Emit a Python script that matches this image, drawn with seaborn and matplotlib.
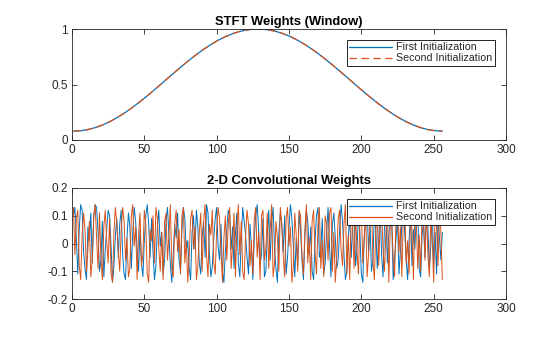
import numpy as np
import pandas as pd
import matplotlib
matplotlib.use("Agg")
import matplotlib.pyplot as plt
import seaborn as sns

# ---- data ----
win_x = [1, 6, 11, 16, 21, 26, 31, 36, 41, 46, 51, 56, 61, 66, 71, 76, 81, 86, 91, 96,
         101, 106, 111, 116, 121, 126, 131, 136, 141, 146, 151, 156, 161, 166, 171, 176,
         181, 186, 191, 196, 201, 206, 211, 216, 221, 226, 231, 236, 241, 246, 251, 256]
win_half = [0.080, 0.0835, 0.0939, 0.1111, 0.1347, 0.1645, 0.2001, 0.2408, 0.2859, 0.3350,
            0.3871, 0.4416, 0.4976, 0.5542, 0.6106, 0.6659, 0.7193, 0.7700, 0.8172, 0.8602,
            0.8984, 0.9311, 0.9579, 0.9783, 0.9922, 0.9991]
win_first = win_half + win_half[::-1]
win_second = win_half + win_half[::-1]

conv_first = [
    .10, .13, .02, -.11, .05, .14, .12, -.03, -.09, -.13, .06, .01, .11, -.07, .09, .14,
    .13, .04, -.10, -.06, .08, -.12, -.02, .05, .12, .10, -.01, -.14, -.08, .03, .09, -.05,
    .07, .12, -.04, -.11, -.13, .02, .11, .06, -.09, .04, .13, .08, -.02, -.10, .05, -.07,
    -.12, .01, .10, .14, .07, -.05, .09, -.03, -.13, -.08, .06, .12, -.01, .04, -.11, -.06,
    .08, .13, .03, -.08, -.14, -.04, .07, .02, .11, -.06, -.10, .05, .13, .09, -.03, .01,
    -.09, -.13, .04, .10, -.02, .12, .06, -.07, -.11, .03, .08, -.05, .14, .11, -.04, -.12,
    -.08, .02, .09, .13, -.01, -.06, .07, -.10, -.14, -.03, .05, .12, .10, -.02, .06, -.09,
    .04, .11, -.07, -.12, .01, .13, .08, .03, -.05, -.11, .07, -.01, -.13, .02, .10, .14,
    .05, -.08, -.04, .09, -.12, -.10, .03, .12, -.06, .08, .13, -.02, -.09, -.14, .04, .11,
    .07, -.03, .10, -.11, -.05, .06, .14, .09, -.01, -.12, .02, -.08, .11, .05, -.06, -.13,
    .03, .12, .08, -.04, .06, -.10, -.13, .01, .10, .13, -.05, -.02, .09, -.11, -.07, .04,
    .13, -.01, -.12, .07, .11, .02, -.09, -.06, .05, .14, .08, -.04, -.13, -.10, .03, .09,
    -.05, .06, .12, -.08, -.02, .10, .04, -.11, -.14, .02, .09, .13, -.03, .07, -.10, -.06,
    .11, .05, -.09, .01, .13, -.04, -.12, .06, .10, -.07, .03, .12, .08, -.13, -.05, .02,
    .09, -.11, -.03, .07, .14, .04, -.06, -.13, .01, .11, -.08, .05, -.02, .10, .12, -.09,
    -.12, .03, .08, -.05, .11, .06, -.10, -.01, .13, -.07, .04, -.11, .09, .02, -.06, .04,
]
conv_second = [
    .13, -.04, .09, .12, -.08, -.13, .03, .11, .05, -.10, -.02, .08, -.12, -.06, .10, .14,
    .02, -.09, .11, -.05, -.13, .06, .12, .01, -.07, .09, -.11, -.14, .04, .13, .07, -.03,
    -.10, .05, .13, .08, -.06, .02, -.12, -.09, .10, .14, -.01, .06, -.13, .03, .11, -.08,
    -.04, .12, .07, -.11, -.14, .05, .01, .10, -.07, .13, .09, -.02, -.10, .04, -.13, .08,
    .11, -.06, .03, .14, -.09, -.12, .07, .12, -.03, .05, -.11, .10, .13, -.07, .01, -.14,
    -.05, .09, .12, -.02, .06, -.13, -.08, .04, .11, -.10, .08, .14, -.04, -.12, .07, .03,
    .12, -.07, -.11, .05, .13, .09, -.03, -.14, .02, .10, -.06, .07, .13, -.09, -.01, .11,
    -.12, .06, .14, -.04, .08, -.10, -.13, .03, .12, .07, -.08, .01, -.11, .09, .13, -.05,
    .04, -.13, .10, .12, -.06, -.02, .11, -.09, .05, .14, -.12, -.07, .08, .02, -.10, .13,
    .07, -.04, -.12, .09, .13, -.01, .06, -.14, -.08, .11, .03, -.10, .12, .10, -.05, -.11,
    .05, .14, -.07, .02, -.13, .08, .12, -.03, -.11, .06, .13, -.09, .01, -.12, .10, .07,
    -.06, .11, .13, -.10, .04, -.14, -.05, .09, .12, -.02, -.08, .07, .14, -.11, .03, -.13,
    .10, .06, -.09, .12, -.03, -.11, .08, .13, -.07, .02, .11, -.12, -.04, .09, .14, -.06,
    -.13, .05, .10, -.08, .07, .13, -.02, -.10, .04, .12, -.14, .06, .09, -.05, -.12, .11,
    .13, -.03, .06, -.12, .09, .14, -.07, .01, -.11, .10, .05, -.13, .12, .08, -.09, .03,
    -.10, .12, .07, -.06, .13, -.04, -.12, .09, .02, -.14, .11, .06, -.08, .13, .04, -.13,
]
conv_x = np.arange(1, len(conv_first) + 1)

series_names = ["First Initialization", "Second Initialization"]
top_title = "STFT Weights (Window)"
bottom_title = "2-D Convolutional Weights"
xticks = [0, 50, 100, 150, 200, 250, 300]
top_yticks = [0, 0.5, 1]
top_ylabels = ["0", "0.5", "1"]
bot_yticks = [-0.2, -0.1, 0, 0.1, 0.2]
bot_ylabels = ["-0.2", "-0.1", "0", "0.1", "0.2"]

# ---- style ----
sns.set_style("white")
plt.rcParams["font.family"] = ["Liberation Sans", "DejaVu Sans"]
plt.rcParams["axes.linewidth"] = 0.6
plt.rcParams["axes.edgecolor"] = "#262626"
plt.rcParams["xtick.direction"] = "in"
plt.rcParams["ytick.direction"] = "in"

blue = "#0072BD"
orange = "#D95319"

fig = plt.figure(figsize=(5.6, 3.37), dpi=100)
W = 560.0
H = 337.0
ax1 = fig.add_axes([72 / W, 1 - 140 / H, 434 / W, 111 / H])
ax2 = fig.add_axes([72 / W, 1 - 299 / H, 434 / W, 111 / H])

df_top = pd.DataFrame({"x": win_x + win_x,
                       "y": win_first + win_second,
                       "s": [series_names[0]] * len(win_x) + [series_names[1]] * len(win_x)})
df_bot = pd.DataFrame({"x": np.concatenate([conv_x, conv_x]),
                       "y": conv_first + conv_second,
                       "s": [series_names[0]] * len(conv_x) + [series_names[1]] * len(conv_x)})

sns.lineplot(data=df_top[df_top.s == series_names[0]], x="x", y="y", ax=ax1,
             color=blue, lw=0.9, label=series_names[0])
sns.lineplot(data=df_top[df_top.s == series_names[1]], x="x", y="y", ax=ax1,
             color=orange, lw=0.9, ls=(0, (6, 3.5)), label=series_names[1])

sns.lineplot(data=df_bot[df_bot.s == series_names[0]], x="x", y="y", ax=ax2,
             color=blue, lw=0.7, label=series_names[0])
sns.lineplot(data=df_bot[df_bot.s == series_names[1]], x="x", y="y", ax=ax2,
             color=orange, lw=0.7, label=series_names[1])

for ax, title, yt, yl, ylim in [(ax1, top_title, top_yticks, top_ylabels, (0, 1)),
                                (ax2, bottom_title, bot_yticks, bot_ylabels, (-0.2, 0.2))]:
    ax.set_xlim(0, 300)
    ax.set_ylim(*ylim)
    ax.set_xticks(xticks)
    ax.set_xticklabels([str(t) for t in xticks])
    ax.set_yticks(yt)
    ax.set_yticklabels(yl)
    ax.set_xlabel("")
    ax.set_ylabel("")
    ax.tick_params(axis="both", which="both", top=True, right=True, bottom=True, left=True,
                   direction="in", length=3.5, width=0.6, labelsize=8.5, color="#262626",
                   labelcolor="#262626", pad=3)
    for sp in ax.spines.values():
        sp.set_visible(True)
        sp.set_linewidth(0.6)
        sp.set_color("#262626")
    ax.set_title(title, fontsize=9.4, fontweight="bold", color="#000000", pad=3)
    leg = ax.legend(loc="upper right", fontsize=7.7, frameon=True, fancybox=False,
                    edgecolor="black", framealpha=1, borderaxespad=1.0, handlelength=4.0,
                    handletextpad=0.4, borderpad=0.25, labelspacing=0.1)
    leg.get_frame().set_linewidth(0.6)
    for line in leg.get_lines():
        line.set_linewidth(0.9)

fig.savefig("out.png", dpi=100)
